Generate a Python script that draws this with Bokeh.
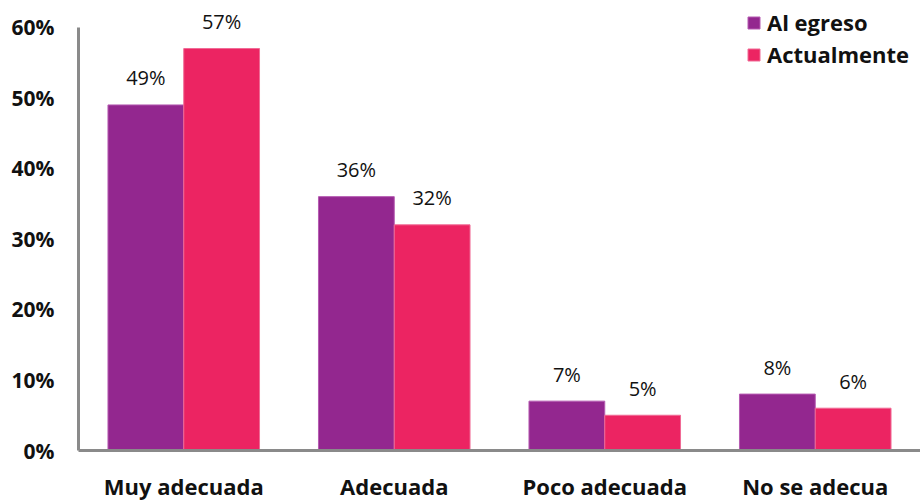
from bokeh.plotting import figure
from bokeh.models import ColumnDataSource, FactorRange, Range1d, FixedTicker, NumeralTickFormatter, Legend, LegendItem
from bokeh.transform import dodge
from bokeh.core.properties import value
from bokeh.embed import file_html
from bokeh.resources import INLINE

categories = ["Muy adecuada", "Adecuada", "Poco adecuada", "No se adecua"]
al_egreso = [0.49, 0.36, 0.07, 0.08]
actualmente = [0.57, 0.32, 0.05, 0.06]
al_egreso_labels = ["49%", "36%", "7%", "8%"]
actualmente_labels = ["57%", "32%", "5%", "6%"]
series_names = ["Al egreso", "Actualmente"]
y_ticks = [0, 0.1, 0.2, 0.3, 0.4, 0.5, 0.6]

PURPLE = "#93278F"
PINK = "#EC2462"
FONT = "Open Sans"

src = ColumnDataSource(dict(cat=categories, a=al_egreso, b=actualmente,
                            la=al_egreso_labels, lb=actualmente_labels))

# frame spans page y 0..452; 60% sits at y=27
p = figure(width=920, height=503, output_backend="svg", toolbar_location=None,
           x_range=FactorRange(*categories, range_padding=0),
           y_range=Range1d(0, 0.6 * 452 / 425),
           min_border_left=78, min_border_right=0, min_border_top=0, min_border_bottom=51)
p.outline_line_color = None
p.xgrid.grid_line_color = None
p.ygrid.grid_line_color = None

ra = p.vbar(x=dodge("cat", -0.18, range=p.x_range), top="a", width=0.36, source=src,
            fill_color=PURPLE, line_color="#B55BB1", line_width=1)
rb = p.vbar(x=dodge("cat", 0.18, range=p.x_range), top="b", width=0.36, source=src,
            fill_color=PINK, line_color="#F06A95", line_width=1)

p.text(x=dodge("cat", -0.18, range=p.x_range), y="a", text="la", source=src,
       text_align="center", text_baseline="alphabetic", y_offset=-27,
       text_font=value(FONT), text_font_size="20px", text_color="#111111")
p.text(x=dodge("cat", 0.18, range=p.x_range), y="b", text="lb", source=src,
       text_align="center", text_baseline="alphabetic", y_offset=-27,
       text_font=value(FONT), text_font_size="20px", text_color="#111111")

for ax in (p.xaxis[0], p.yaxis[0]):
    ax.axis_line_color = "#8A8A8A"
    ax.axis_line_width = 3
    ax.major_tick_line_color = None
    ax.minor_tick_line_color = None
    ax.major_label_text_font = FONT
    ax.major_label_text_font_style = "bold"
    ax.major_label_text_color = "#111111"

p.yaxis.bounds = (0, 0.6)
p.yaxis.ticker = FixedTicker(ticks=y_ticks)
p.yaxis.formatter = NumeralTickFormatter(format="0%")
p.yaxis.major_label_text_font_size = "21px"
p.yaxis.major_label_standoff = 18
p.xaxis.major_label_text_font_size = "22px"
p.xaxis.major_label_standoff = 14

legend = Legend(items=[LegendItem(label=series_names[0], renderers=[ra]),
                       LegendItem(label=series_names[1], renderers=[rb])],
                location=(668, 381), orientation="vertical",
                label_text_font=FONT, label_text_font_style="bold",
                label_text_font_size="22px", label_text_color="#111111",
                glyph_width=15, glyph_height=15, label_height=20, spacing=2,
                padding=0, margin=0, label_standoff=6,
                border_line_color=None, background_fill_alpha=0)
p.add_layout(legend, "center")

open("out.html", "w").write(file_html(p, INLINE))
